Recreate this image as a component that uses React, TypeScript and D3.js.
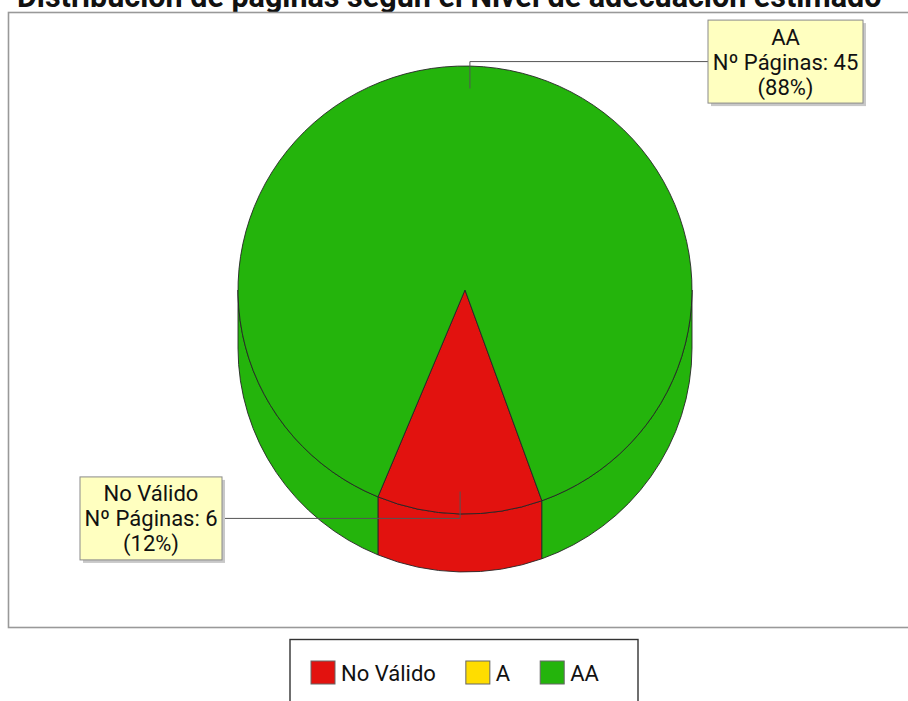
import { useEffect, useRef } from "react";
import * as d3 from "d3";

// data
const categories = ["No Válido", "A", "AA"];
const pages = [6, 0, 45];
const sliceColors = ["#e2120f", "#ffdd00", "#24b40c"];
const chartTitle = "Distribución de páginas según el Nivel de adecuación estimado";

const W = 908;
const H = 701;
const FONT = "Roboto, 'DejaVu Sans', sans-serif";

export default function App() {
	const ref = useRef<SVGSVGElement>(null);

	useEffect(() => {
		document.body.style.margin = "0";
		document.body.style.overflow = "hidden";
		const svg = d3.select(ref.current);
		svg.selectAll("*").remove();

		// title (partly cut by the top edge)
		svg
			.append("text")
			.attr("x", 17)
			.attr("y", 7)
			.attr("font-family", FONT)
			.attr("font-weight", "bold")
			.attr("font-size", 30.5)
			.attr("fill", "#111")
			.text(chartTitle);

		// plot area
		svg
			.append("rect")
			.attr("x", 8.5)
			.attr("y", 12.5)
			.attr("width", 920)
			.attr("height", 615)
			.attr("fill", "white")
			.attr("stroke", "#999")
			.attr("stroke-width", 1.6);

		// pie geometry
		const cx = 465;
		const cy = 290;
		const rx = 227;
		const ry = 224;
		const depth = 58;
		const start = Math.PI - 0.3456;

		const total = d3.sum(pages);
		const pie = d3
			.pie<number>()
			.sort(null)
			.startAngle(start)
			.endAngle(start + 2 * Math.PI);
		const arcs = pie(pages);

		const pt = (a: number, k = 1, dy = 0): [number, number] => [
			cx + rx * k * Math.sin(a),
			cy - ry * k * Math.cos(a) + dy,
		];

		const g = svg.append("g");
		const stroke = "#262626";

		// side walls (front half only)
		const fronts = [
			[Math.PI / 2, (3 * Math.PI) / 2],
			[Math.PI / 2 + 2 * Math.PI, (3 * Math.PI) / 2 + 2 * Math.PI],
		];
		arcs.forEach((d, i) => {
			if (d.value === 0) return;
			fronts.forEach(([f0, f1]) => {
				const s = Math.max(d.startAngle, f0);
				const e = Math.min(d.endAngle, f1);
				if (e <= s) return;
				const [x0, y0] = pt(s);
				const [x1, y1] = pt(e);
				const path =
					`M${x0},${y0}A${rx},${ry} 0 0 1 ${x1},${y1}` +
					`L${x1},${y1 + depth}A${rx},${ry} 0 0 0 ${x0},${y0 + depth}Z`;
				g.append("path")
					.attr("d", path)
					.attr("fill", sliceColors[i])
					.attr("stroke", stroke)
					.attr("stroke-width", 0.9)
					.attr("stroke-linejoin", "round");
			});
		});

		// top faces
		arcs.forEach((d, i) => {
			if (d.value === 0) return;
			const [x0, y0] = pt(d.startAngle);
			const [x1, y1] = pt(d.endAngle);
			const large = d.endAngle - d.startAngle > Math.PI ? 1 : 0;
			g.append("path")
				.attr("d", `M${cx},${cy}L${x0},${y0}A${rx},${ry} 0 ${large} 1 ${x1},${y1}Z`)
				.attr("fill", sliceColors[i])
				.attr("stroke", stroke)
				.attr("stroke-width", 0.9)
				.attr("stroke-linejoin", "round");
		});

		// labels
		const lineH = 25;
		const labelGap = 16;
		arcs.forEach((d, i) => {
			if (d.value === 0) return;
			const mid = (d.startAngle + d.endAngle) / 2;
			const [ax, ay] = pt(mid, 0.9);
			const ey = cy - ry * 1.02 * Math.cos(mid);
			const right = Math.sin(mid) >= 0;
			const lines = [
				categories[i],
				`Nº Páginas: ${d.value}`,
				`(${Math.round((d.value / total) * 100)}%)`,
			];

			const lg = svg.append("g");
			const link = lg
				.append("path")
				.attr("fill", "none")
				.attr("stroke", "#555")
				.attr("stroke-width", 1);
			const shadow = lg.append("rect").attr("fill", "#c8c8c8");
			const box = lg
				.append("rect")
				.attr("fill", "#ffffc0")
				.attr("stroke", "#8a8a8a")
				.attr("stroke-width", 1);
			const texts = lines.map((t, j) =>
				lg
					.append("text")
					.attr("font-family", FONT)
					.attr("font-size", 22)
					.attr("fill", "#111")
					.attr("text-anchor", "middle")
					.attr("y", ey - 17 + j * lineH)
					.text(t),
			);
			const tw = d3.max(texts, (t) => (t.node() as SVGTextElement).getComputedTextLength()) || 0;
			const bw = Math.round(tw + 9);
			const bh = 83;
			const bx = right ? cx + rx + labelGap : cx - rx - labelGap - bw;
			const by = ey - bh / 2;
			shadow.attr("x", bx + 3).attr("y", by + 3).attr("width", bw).attr("height", bh);
			box.attr("x", bx).attr("y", by).attr("width", bw).attr("height", bh);
			texts.forEach((t) => t.attr("x", bx + bw / 2));
			const lx = right ? bx : bx + bw;
			link.attr("d", `M${ax},${ay}L${ax},${ey}L${lx},${ey}`);
		});

		// legend
		const legX = 290;
		const legY = 639.5;
		const legW = 348;
		svg
			.append("rect")
			.attr("x", legX)
			.attr("y", legY)
			.attr("width", legW)
			.attr("height", 100)
			.attr("fill", "white")
			.attr("stroke", "#333")
			.attr("stroke-width", 1.4);
		let x = legX + 21;
		categories.forEach((c, i) => {
			svg
				.append("rect")
				.attr("x", x)
				.attr("y", 661)
				.attr("width", 24)
				.attr("height", 23)
				.attr("fill", sliceColors[i])
				.attr("stroke", "#666")
				.attr("stroke-width", 1);
			const t = svg
				.append("text")
				.attr("x", x + 30)
				.attr("y", 681)
				.attr("font-family", FONT)
				.attr("font-size", 22)
				.attr("fill", "#111")
				.text(c);
			x += 30 + (t.node() as SVGTextElement).getComputedTextLength() + 30;
		});
	}, []);

	return <svg ref={ref} width={W} height={H} style={{ display: "block" }} />;
}
